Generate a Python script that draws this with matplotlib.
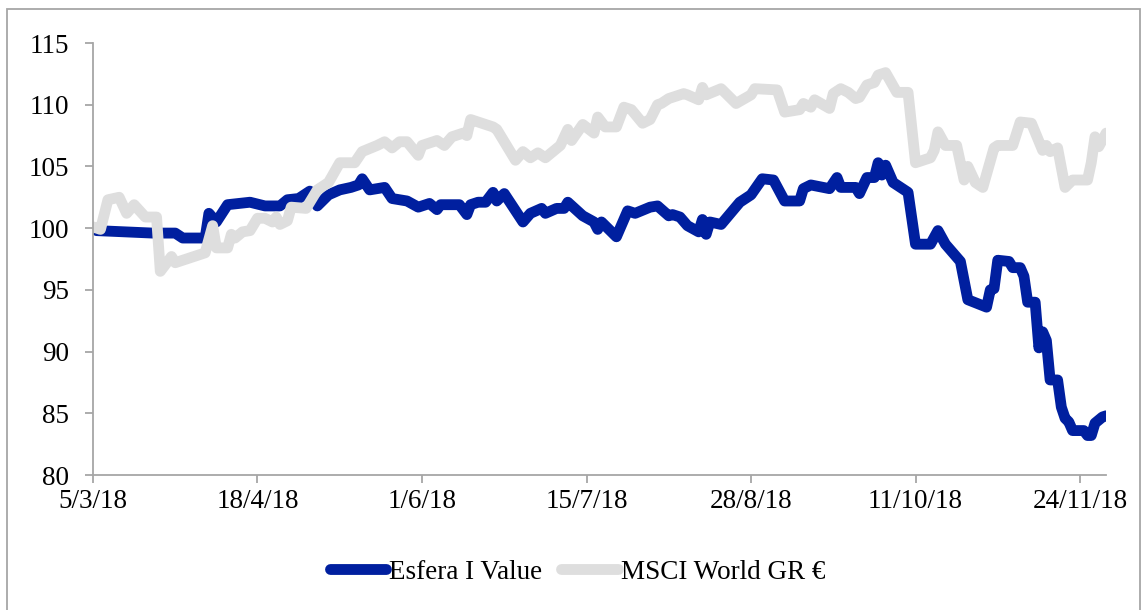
import numpy as np
import pandas as pd
import matplotlib
matplotlib.use("Agg")
import matplotlib.pyplot as plt
from matplotlib.patches import Rectangle

plt.rcParams['font.family'] = ['Liberation Serif', 'DejaVu Serif']

start = pd.Timestamp('2018-03-05')

# days since 5/3/18, value (base 100)
esfera_days = [0, 1, 16, 22, 24, 30, 31, 33, 36, 42, 46, 50, 52, 55, 58, 60, 63, 66, 69, 71,
               72, 74, 78, 80, 84, 87, 90, 92, 93, 98, 100, 101, 103, 105, 107, 108, 110, 115,
               117, 120, 121, 124, 126, 127, 131, 134, 135, 136, 140, 143, 145, 149, 151, 154,
               155, 157, 159, 162, 163, 164, 165, 168, 173, 176, 179, 182, 185, 189, 190, 192,
               197, 199, 200, 204, 205, 207, 209, 210, 211, 212, 214, 216, 218, 220, 224, 226,
               228, 232, 234, 239, 240, 241, 242, 245, 246, 248, 249, 250, 252, 253, 254, 255,
               256, 258, 259, 260, 261, 262, 265, 266, 267, 268, 270, 271]
esfera_vals = [100.0, 99.8, 99.6, 99.6, 99.2, 99.2, 101.2, 100.5, 101.9, 102.1, 101.8, 101.8,
               102.3, 102.4, 103.0, 101.8, 102.7, 103.1, 103.3, 103.5, 104.0, 103.1, 103.3,
               102.4, 102.2, 101.7, 102.0, 101.5, 101.9, 101.9, 101.1, 101.9, 102.1, 102.1,
               102.9, 102.2, 102.8, 100.5, 101.2, 101.6, 101.2, 101.6, 101.6, 102.1, 101.0,
               100.5, 99.9, 100.5, 99.3, 101.4, 101.2, 101.7, 101.8, 101.0, 101.1, 100.9,
               100.2, 99.7, 100.7, 99.5, 100.5, 100.3, 102.1, 102.7, 104.0, 103.9, 102.2,
               102.2, 103.2, 103.5, 103.2, 104.1, 103.3, 103.3, 102.8, 104.1, 104.1, 105.3,
               104.3, 105.1, 103.7, 103.3, 102.9, 98.7, 98.7, 99.8, 98.7, 97.3, 94.2, 93.6,
               95.0, 95.1, 97.4, 97.3, 96.8, 96.8, 96.1, 94.0, 94.0, 90.3, 91.6, 90.9, 87.7,
               87.7, 85.5, 84.6, 84.3, 83.6, 83.6, 83.2, 83.2, 84.2, 84.7, 84.8]

msci_days = [0, 2, 4, 7, 9, 11, 14, 17, 18, 21, 22, 30, 32, 33, 36, 37, 38, 40, 42, 44, 46,
             48, 49, 50, 52, 53, 57, 60, 63, 66, 70, 72, 76, 78, 80, 82, 84, 87, 88, 92, 94,
             96, 99, 100, 101, 103, 107, 108, 109, 113, 115, 117, 119, 121, 125, 127, 128,
             131, 134, 135, 137, 140, 142, 144, 147, 149, 151, 152, 154, 155, 158, 159, 162,
             163, 164, 168, 172, 176, 177, 183, 185, 189, 190, 192, 193, 197, 198, 200, 202,
             204, 205, 207, 209, 210, 212, 215, 218, 220, 224, 225, 226, 228, 231, 233, 234,
             236, 238, 241, 242, 246, 248, 251, 254, 255, 256, 258, 260, 262, 266, 267, 268,
             269, 271]
msci_vals = [100.1, 99.9, 102.3, 102.5, 101.2, 101.9, 100.9, 100.9, 96.5, 97.7, 97.2, 98.0,
             100.2, 98.4, 98.4, 99.5, 99.2, 99.7, 99.8, 100.8, 100.8, 100.5, 100.9, 100.3,
             100.6, 101.7, 101.6, 103.1, 103.7, 105.3, 105.3, 106.2, 106.7, 107.0, 106.5,
             107.0, 107.0, 105.9, 106.7, 107.1, 106.7, 107.4, 107.7, 107.5, 108.8, 108.6,
             108.2, 108.0, 107.5, 105.5, 106.2, 105.7, 106.1, 105.7, 106.7, 108.0, 107.1,
             108.4, 107.7, 109.0, 108.2, 108.2, 109.8, 109.6, 108.5, 108.8, 110.0, 110.1,
             110.5, 110.6, 110.9, 110.8, 110.4, 111.4, 110.8, 111.3, 110.1, 110.8, 111.3,
             111.2, 109.4, 109.6, 110.1, 109.8, 110.4, 109.7, 110.9, 111.3, 111.0, 110.5,
             110.6, 111.6, 111.8, 112.4, 112.6, 111.0, 111.0, 105.3, 105.7, 106.3, 107.8,
             106.7, 106.7, 103.9, 105.0, 103.7, 103.3, 106.5, 106.7, 106.7, 108.6, 108.5,
             106.3, 106.7, 106.2, 106.5, 103.3, 103.9, 103.9, 105.3, 107.4, 106.6, 107.7]

tick_days = [0, 44, 88, 132, 176, 220, 264]

esfera_x = start + pd.to_timedelta(esfera_days, unit='D')
msci_x = start + pd.to_timedelta(msci_days, unit='D')
tick_x = start + pd.to_timedelta(tick_days, unit='D')

fig = plt.figure(figsize=(11.41, 6.10), dpi=100)
ax = fig.add_axes([0.0815, 0.2213, 0.888, 0.7082])

ax.plot(esfera_x, esfera_vals, color='#001f9f', lw=7.8, solid_joinstyle='round',
        solid_capstyle='round', label='Esfera I Value')
ax.plot(msci_x, msci_vals, color='#dedede', lw=7.8, solid_joinstyle='round',
        solid_capstyle='round', label='MSCI World GR €')

ax.set_ylim(80, 115)
ax.set_yticks(np.arange(80, 116, 5))
ax.set_xlim(start, start + pd.Timedelta(days=271))
ax.set_xticks(tick_x)
ax.set_xticklabels([f"{d.day}/{d.month}/{d.strftime('%y')}" for d in tick_x])

for s in ['top', 'right']:
    ax.spines[s].set_visible(False)
for s in ['left', 'bottom']:
    ax.spines[s].set_color('#a6a6a6')
    ax.spines[s].set_linewidth(1.3)
ax.tick_params(axis='both', colors='#a6a6a6', labelcolor='black', labelsize=19.5,
               length=6, width=1.3)
ax.tick_params(axis='y', pad=11)
ax.tick_params(axis='x', pad=4)

leg = fig.legend(loc='center', bbox_to_anchor=(0.506, 0.062), ncol=2, frameon=False,
                 fontsize=19.5, handlelength=2.1, handletextpad=0.1, columnspacing=0.7)

fig.patches.append(Rectangle((0.006, -0.01), 0.993, 0.995, transform=fig.transFigure,
                             fill=False, edgecolor='#a6a6a6', lw=1.3))

fig.savefig('out.png', dpi=100)
